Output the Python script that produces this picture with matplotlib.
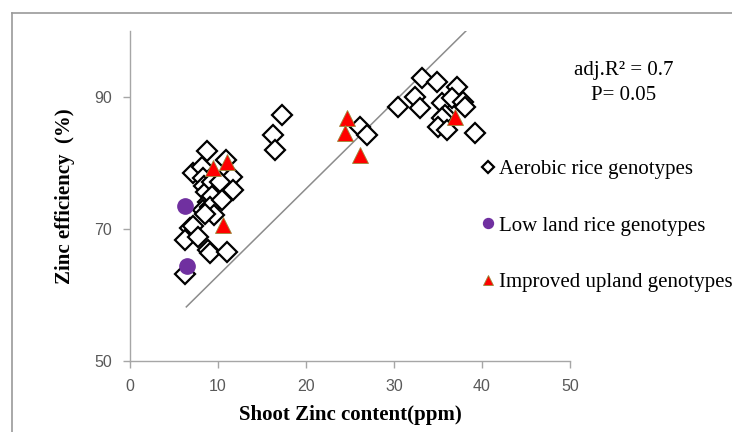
import matplotlib
matplotlib.use("Agg")
import matplotlib.pyplot as plt
from matplotlib.lines import Line2D

# values
aerobic_x = [8.75, 7.16, 8.18, 10.9, 11.6, 11.7, 8.3, 8.4, 8.6, 9.3, 9.9, 8.9, 9.3,
             8.3, 9.1, 9.5, 8.5, 6.8, 7.2, 6.25, 7.7, 8.9, 9.1, 11.0, 6.25, 10.2, 10.5,
             17.3, 16.3, 16.5, 26.1, 26.9,
             30.5, 33.2, 34.9, 37.2, 32.4, 33.0, 35.5, 36.6, 37.8, 38.1, 35.8, 35.5,
             35.0, 36.0, 39.2]
aerobic_y = [81.8, 78.5, 79.4, 80.5, 77.9, 75.9, 77.7, 76.5, 75.6, 77.1, 74.5, 74.1, 75.0,
             72.9, 73.3, 72.1, 72.3, 70.2, 70.5, 68.3, 68.8, 66.8, 66.4, 66.5, 63.2, 77.1, 74.4,
             87.3, 84.2, 82.0, 85.5, 84.2,
             88.5, 92.9, 92.3, 91.5, 90.0, 88.3, 89.1, 89.8, 89.2, 88.5, 87.3, 86.8,
             85.5, 85.0, 84.5]

lowland_x = [6.25, 6.5]
lowland_y = [73.5, 64.4]

upland_x = [9.4, 11.0, 10.6, 24.7, 24.4, 26.1, 36.9]
upland_y = [79.2, 80.2, 70.6, 86.8, 84.5, 81.2, 87.0]

# trend line as drawn in the picture
line_x = [6.4, 38.4]
line_y = [58.2, 100.3]

x_ticks = [0, 10, 20, 30, 40, 50]
y_ticks = [50, 70, 90]

serif = ["Liberation Serif", "DejaVu Serif"]

fig = plt.figure(figsize=(7.32, 4.32), dpi=100)
ax = fig.add_axes([130 / 732, 1 - 361 / 432, 440 / 732, 330 / 432])

ax.plot(line_x, line_y, color="#8c8c8c", lw=1.1, zorder=1)
ax.plot(aerobic_x, aerobic_y, ls="none", marker="D", ms=9.8, mfc="white",
        mec="black", mew=1.6, zorder=2, label="Aerobic rice genotypes")
ax.plot(lowland_x, lowland_y, ls="none", marker="o", ms=11, mfc="#7030A0",
        mec="#7030A0", zorder=3, label="Low land rice genotypes")
ax.plot(upland_x, upland_y, ls="none", marker="^", ms=12, mfc="#FF0000",
        mec="#9a8a3a", mew=0.6, zorder=4, label="Improved upland genotypes")

ax.set_xlim(0, 50)
ax.set_ylim(50, 100)
ax.set_xticks(x_ticks)
ax.set_yticks(y_ticks)
for s in ["top", "right"]:
    ax.spines[s].set_visible(False)
for s in ["left", "bottom"]:
    ax.spines[s].set_color("#a6a6a6")
    ax.spines[s].set_linewidth(1.0)
ax.tick_params(colors="#a6a6a6", length=5, width=1.0, labelsize=11.5,
               labelcolor="#595959", pad=8)
for lab in ax.get_xticklabels() + ax.get_yticklabels():
    lab.set_family(["Liberation Sans Narrow", "Liberation Sans", "DejaVu Sans"])

ax.set_xlabel("Shoot Zinc content(ppm)", family=serif, fontsize=15,
              fontweight="bold", labelpad=8)
ax.set_ylabel("Zinc efficiency  (%)", family=serif, fontsize=15,
              fontweight="bold", labelpad=14)

ax.text(624 / 732, 1 - 70 / 432, "adj.R\u00b2 = 0.7", transform=fig.transFigure,
        family=serif, fontsize=15, ha="center", va="center")
ax.text(624 / 732, 1 - 95 / 432, "P= 0.05", transform=fig.transFigure,
        family=serif, fontsize=15, ha="center", va="center")

leg = ax.legend(loc="upper left", bbox_to_anchor=(474 / 732, 1 - 151 / 432),
                bbox_transform=fig.transFigure, frameon=False,
                prop={"family": serif, "size": 15}, handlelength=0.55,
                handletextpad=0.25, labelspacing=1.78, markerscale=0.65,
                borderaxespad=0)

# grey frame around the chart area
fig.add_artist(Line2D([12 / 732, 12 / 732], [0, 1 - 13 / 432],
                      transform=fig.transFigure, color="#9a9a9a", lw=1.2))
fig.add_artist(Line2D([12 / 732, 1], [1 - 13 / 432, 1 - 13 / 432],
                      transform=fig.transFigure, color="#9a9a9a", lw=1.2))

fig.savefig("out.png", dpi=100)
